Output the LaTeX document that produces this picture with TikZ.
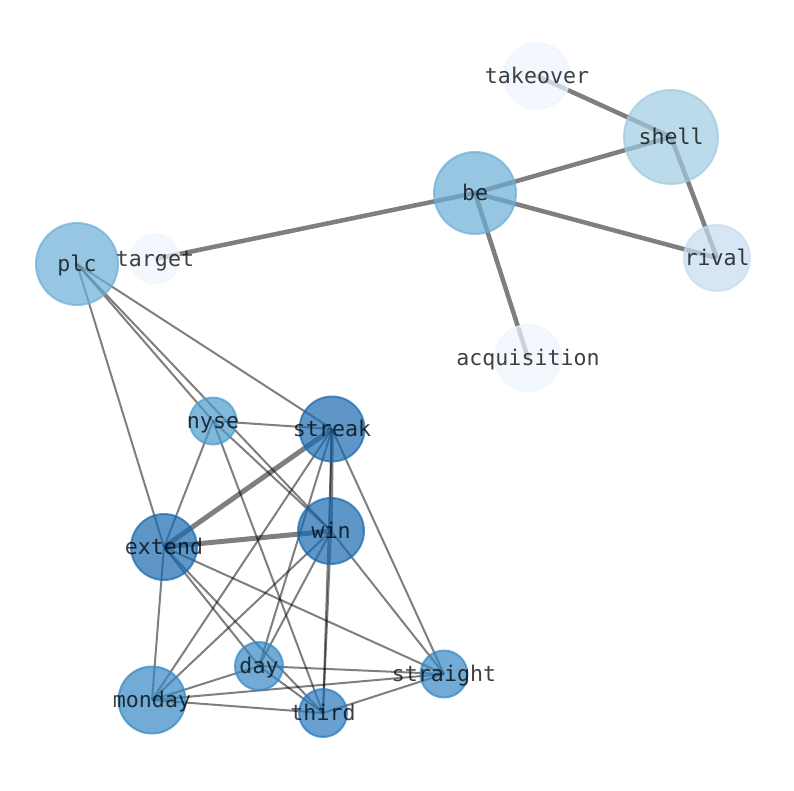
\documentclass[tikz,border=0pt]{standalone}
\usepackage{fontspec}
\newfontfamily\labfont{DejaVu Sans Mono}
\definecolor{cA}{RGB}{25,105,175}
\definecolor{cT}{RGB}{40,120,188}
\definecolor{cB}{RGB}{52,136,196}
\definecolor{cN}{RGB}{75,155,205}
\definecolor{cP}{RGB}{107,174,214}
\definecolor{cS}{RGB}{158,202,225}
\definecolor{cR}{RGB}{198,219,239}
\definecolor{cW}{RGB}{238,245,253}
\tikzset{
  vtx/.style={circle, inner sep=0pt, minimum size=#1, line width=2pt, fill opacity=0.7, draw opacity=0.7},
  lab/.style={inner sep=0pt, yshift=-4pt, font=\labfont\fontsize{21.6}{22}\selectfont, text height=0.8em, text depth=0.2em, text=black, text opacity=0.75},
  ethin/.style={draw=black, draw opacity=0.5, line width=2pt},
  emid/.style={draw=black, draw opacity=0.5, line width=3.5pt},
  ethick/.style={draw=black, draw opacity=0.5, line width=4.5pt},
  ebig/.style={draw=black, draw opacity=0.5, line width=5pt},
}
\begin{document}
\begin{tikzpicture}[x=1pt,y=-1pt]
\useasboundingbox (0,0) rectangle (794,790);
% node positions
\coordinate (takeover) at (537,76);
\coordinate (shell) at (671,137);
\coordinate (be) at (475,193);
\coordinate (rival) at (717,258);
\coordinate (plc) at (77,264);
\coordinate (target) at (155,259);
\coordinate (acquisition) at (528,358);
\coordinate (nyse) at (213,421);
\coordinate (streak) at (332,429);
\coordinate (win) at (331,531);
\coordinate (extend) at (164,547);
\coordinate (day) at (259,666);
\coordinate (straight) at (444,674);
\coordinate (monday) at (152,700);
\coordinate (third) at (323,713);
% edges
\draw[ethick] (takeover) -- (shell);
\draw[ethick] (shell) -- (be);
\draw[ethick] (shell) -- (rival);
\draw[ethick] (be) -- (rival);
\draw[ethick] (be) -- (acquisition);
\draw[ethick] (be) -- (target);
\draw[ebig] (streak) -- (extend);
\draw[ebig] (extend) -- (win);
\draw[emid] (streak) -- (win);
\foreach \a/\b in {plc/extend, plc/nyse, plc/win, plc/streak, nyse/streak, nyse/extend, nyse/win, nyse/third, streak/third, streak/monday, streak/day, streak/straight, win/monday, win/day, win/third, win/straight, extend/monday, extend/day, extend/third, extend/straight, monday/day, monday/straight, monday/third, day/straight, day/third, third/straight}
  \draw[ethin] (\a) -- (\b);
% circles
\node[vtx=66pt, fill=cW, draw=cW] (n-takeover) at (takeover) {};
\node[vtx=94pt, fill=cS, draw=cS] (n-shell) at (shell) {};
\node[vtx=82pt, fill=cP, draw=cP] (n-be) at (be) {};
\node[vtx=66pt, fill=cR, draw=cR] (n-rival) at (rival) {};
\node[vtx=82pt, fill=cP, draw=cP] (n-plc) at (plc) {};
\node[vtx=49pt, fill=cW, draw=cW] (n-target) at (target) {};
\node[vtx=66pt, fill=cW, draw=cW] (n-acquisition) at (acquisition) {};
\node[vtx=47pt, fill=cN, draw=cN] (n-nyse) at (nyse) {};
\node[vtx=65pt, fill=cA, draw=cA] (n-streak) at (streak) {};
\node[vtx=66pt, fill=cA, draw=cA] (n-win) at (win) {};
\node[vtx=66pt, fill=cA, draw=cA] (n-extend) at (extend) {};
\node[vtx=48pt, fill=cB, draw=cB] (n-day) at (day) {};
\node[vtx=47pt, fill=cB, draw=cB] (n-straight) at (straight) {};
\node[vtx=67pt, fill=cB, draw=cB] (n-monday) at (monday) {};
\node[vtx=48pt, fill=cT, draw=cT] (n-third) at (third) {};
% labels
\node[lab] (l-takeover) at (takeover) {takeover};
\node[lab] (l-shell) at (shell) {shell};
\node[lab] (l-be) at (be) {be};
\node[lab] (l-rival) at (rival) {rival};
\node[lab] (l-plc) at (plc) {plc};
\node[lab] (l-target) at (target) {target};
\node[lab] (l-acquisition) at (acquisition) {acquisition};
\node[lab] (l-nyse) at (nyse) {nyse};
\node[lab] (l-streak) at (streak) {streak};
\node[lab] (l-win) at (win) {win};
\node[lab] (l-extend) at (extend) {extend};
\node[lab] (l-day) at (day) {day};
\node[lab] (l-straight) at (straight) {straight};
\node[lab] (l-monday) at (monday) {monday};
\node[lab] (l-third) at (third) {third};
\end{tikzpicture}
\end{document}
